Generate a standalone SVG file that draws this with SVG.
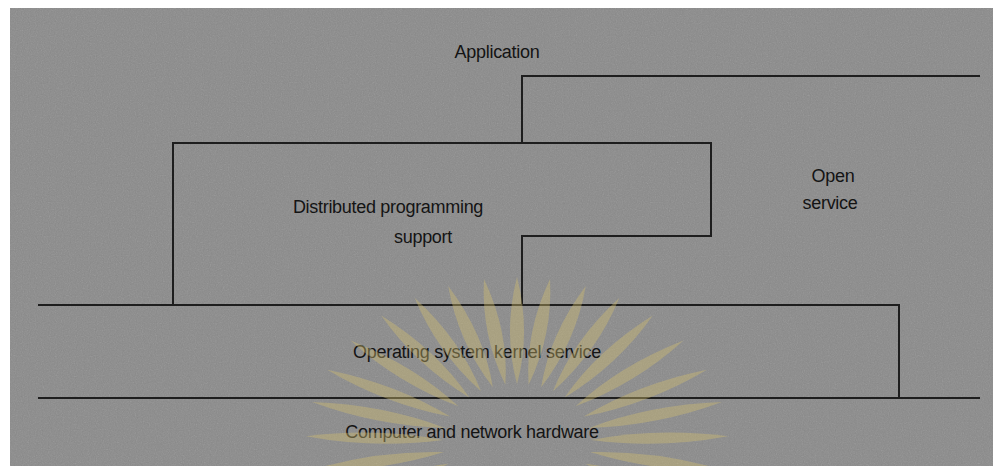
<svg xmlns="http://www.w3.org/2000/svg" xmlns:xlink="http://www.w3.org/1999/xlink" width="993" height="466" viewBox="0 0 993 466">
  <style>
    .lbl { font-family: "Liberation Sans", Arial, sans-serif; font-size: 18px; fill: #141414; text-anchor: middle; letter-spacing: -0.3px; }
    .edge { fill: none; stroke: #1e1e1e; stroke-width: 2; stroke-linejoin: miter; }
    .ray { fill: #d2be70; }
  </style>
  <defs>
    <filter id="noise" x="0" y="0" width="100%" height="100%">
      <feTurbulence type="fractalNoise" baseFrequency="0.85" numOctaves="2" seed="7"/>
      <feColorMatrix type="saturate" values="0"/>
    </filter>
    <path id="petal" d="M0,-58 Q-11,-110 0,-165 Q11,-110 0,-58 Z"/>
  </defs>

  <rect x="0" y="0" width="993" height="466" fill="#ffffff"/>
  <rect id="background" x="10" y="8" width="983" height="458" fill="#8a8a8a"/>
  <rect x="10" y="8" width="983" height="458" filter="url(#noise)" opacity="0.22"/>

  <g id="connectors">
    <path class="edge" d="M980,76 H522 V143"/>
    <path class="edge" d="M173,305 V143 H711 V236 H522 V305"/>
    <path class="edge" d="M38,305 H899 V398"/>
    <path class="edge" d="M38,398 H980"/>
  </g>

  <g id="application">
    <text class="lbl" x="497" y="58">Application</text>
  </g>
  <g id="distributed-programming-support">
    <text class="lbl" x="388" y="213">Distributed programming</text>
    <text class="lbl" x="423" y="243">support</text>
  </g>
  <g id="open-service">
    <text class="lbl" x="833" y="182">Open</text>
    <text class="lbl" x="830" y="209">service</text>
  </g>
  <g id="os-kernel-service">
    <text class="lbl" x="477" y="358">Operating system kernel service</text>
  </g>
  <g id="hardware">
    <text class="lbl" x="472" y="438">Computer and network hardware</text>
  </g>

  <g id="watermark" opacity="0.4" transform="translate(517,442) scale(1.28,1)">
    <use xlink:href="#petal" class="ray" transform="rotate(-112)"/>
    <use xlink:href="#petal" class="ray" transform="rotate(-100)"/>
    <use xlink:href="#petal" class="ray" transform="rotate(-88)"/>
    <use xlink:href="#petal" class="ray" transform="rotate(-76)"/>
    <use xlink:href="#petal" class="ray" transform="rotate(-64)"/>
    <use xlink:href="#petal" class="ray" transform="rotate(-52)"/>
    <use xlink:href="#petal" class="ray" transform="rotate(-40)"/>
    <use xlink:href="#petal" class="ray" transform="rotate(-29)"/>
    <use xlink:href="#petal" class="ray" transform="rotate(-19)"/>
    <use xlink:href="#petal" class="ray" transform="rotate(-9)"/>
    <use xlink:href="#petal" class="ray" transform="rotate(0)"/>
    <use xlink:href="#petal" class="ray" transform="rotate(9)"/>
    <use xlink:href="#petal" class="ray" transform="rotate(19)"/>
    <use xlink:href="#petal" class="ray" transform="rotate(29)"/>
    <use xlink:href="#petal" class="ray" transform="rotate(40)"/>
    <use xlink:href="#petal" class="ray" transform="rotate(52)"/>
    <use xlink:href="#petal" class="ray" transform="rotate(64)"/>
    <use xlink:href="#petal" class="ray" transform="rotate(76)"/>
    <use xlink:href="#petal" class="ray" transform="rotate(88)"/>
    <use xlink:href="#petal" class="ray" transform="rotate(100)"/>
    <use xlink:href="#petal" class="ray" transform="rotate(112)"/>
  </g>
</svg>
